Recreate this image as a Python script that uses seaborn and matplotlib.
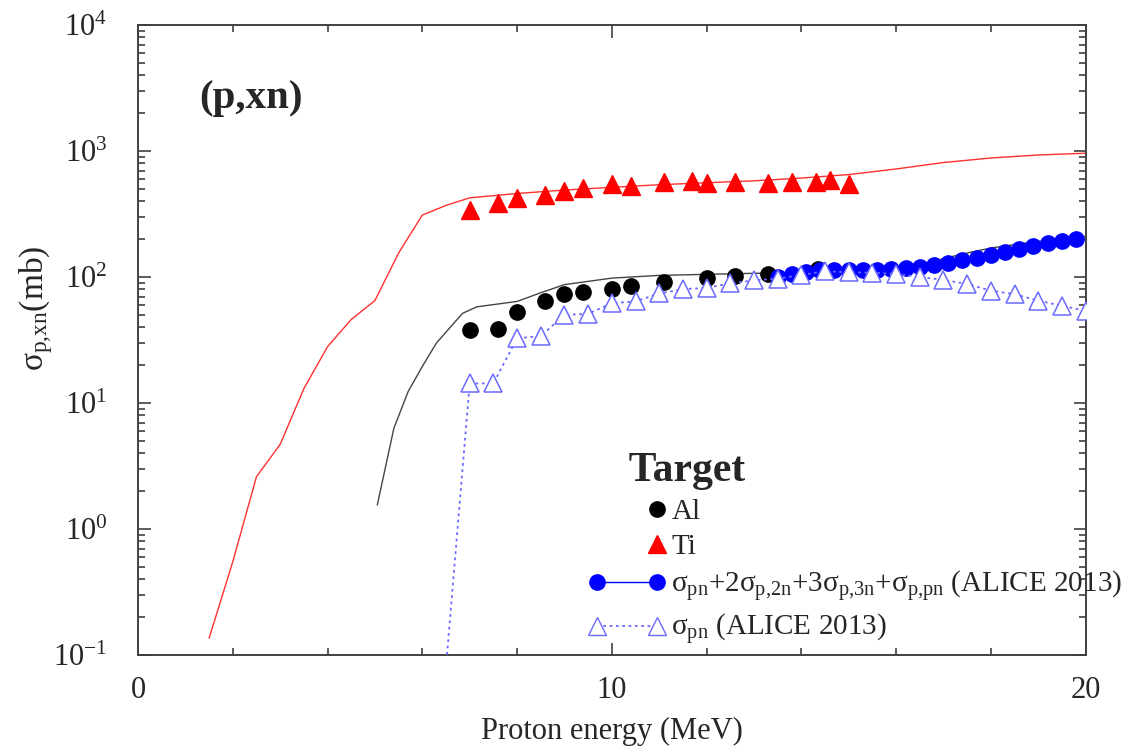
import numpy as np
import matplotlib
matplotlib.use("Agg")
import matplotlib.pyplot as plt
import seaborn as sns
from matplotlib.lines import Line2D
from matplotlib.legend_handler import HandlerLine2D
from matplotlib.ticker import MultipleLocator, LogLocator, NullFormatter

# theory curve, Ti target
ti_calc_e = [1.5, 2.0, 2.5, 3.0, 3.5, 4.0, 4.5, 5.0, 5.5, 6.0, 6.5, 7.0, 8.0, 9.0,
             10.0, 11.0, 12.0, 13.0, 14.0, 15.0, 16.0, 17.0, 18.0, 19.0, 20.0]
ti_calc_xs = [0.136, 0.55, 2.6, 4.7, 13, 28, 46, 65, 155, 310, 370, 425, 460, 490,
              515, 540, 560, 580, 610, 650, 720, 810, 880, 930, 960]

# theory curve, Al target
al_calc_e = [5.05, 5.4, 5.7, 6.0, 6.3, 6.85, 7.15, 8.0, 8.5, 9.0, 10.0, 11.0, 12.0,
             13.0, 14.0, 15.0, 16.0, 16.5, 17.0, 17.5, 18.0, 19.0, 20.0]
al_calc_xs = [1.55, 6.3, 12.3, 19.5, 30, 51.5, 58, 64, 75, 87, 98, 103, 105,
              107, 108, 110, 115, 125, 140, 155, 170, 192, 210]

# measured points
al_e = [7.0, 7.6, 8.0, 8.6, 9.0, 9.4, 10.0, 10.4, 11.1, 12.0, 12.6, 13.3, 14.35]
al_xs = [38, 38.7, 52.5, 65, 73, 76.4, 81, 85, 92, 97.6, 102, 105, 116]

ti_e = [7.0, 7.6, 8.0, 8.6, 9.0, 9.4, 10.0, 10.4, 11.1, 11.7, 12.0, 12.6, 13.3,
        13.8, 14.3, 14.6, 15.0]
ti_xs = [340, 385, 421, 448, 484, 511, 544, 527, 563, 577, 562, 563, 562,
         563, 563, 585, 550]

# ALICE 2013
alice_sum_e = [13.5, 13.8, 14.1, 14.4, 14.7, 15.0, 15.3, 15.6, 15.9, 16.2, 16.5,
               16.8, 17.1, 17.4, 17.7, 18.0, 18.3, 18.6, 18.9, 19.2, 19.5, 19.8]
alice_sum_xs = [100, 105, 110, 113, 114, 114, 114, 114, 115, 118, 121,
                124, 130, 136, 142, 150, 158, 167, 177, 185, 194, 200]

alice_pn_e = [6.5, 7.0, 7.5, 8.0, 8.5, 9.0, 9.5, 10.0, 10.5, 11.0, 11.5, 12.0, 12.5,
              13.0, 13.5, 14.0, 14.5, 15.0, 15.5, 16.0, 16.5, 17.0, 17.5, 18.0,
              18.5, 19.0, 19.5, 20.0]
alice_pn_xs = [0.08, 14.3, 14.3, 32.6, 34, 50, 51, 62, 64, 74, 80, 82, 89,
               94, 97, 104, 111, 109, 108, 106, 100, 95, 88, 78,
               73, 65, 59, 54]

sns.set_style("ticks")
plt.rcParams["font.family"] = ["Liberation Serif", "DejaVu Serif"]
plt.rcParams["mathtext.fontset"] = "custom"
plt.rcParams["mathtext.rm"] = "Liberation Serif"
plt.rcParams["mathtext.it"] = "Liberation Serif:italic"
plt.rcParams["mathtext.bf"] = "Liberation Serif:bold"
plt.rcParams["mathtext.default"] = "rm"

fig = plt.figure(figsize=(11.23, 7.53), dpi=100)
ax = fig.add_axes([0.1229, 0.1301, 0.8438, 0.8367])

ms_c = 11
ms_t = 12.5
blue_light = "#6a6aff"
dots = (0, (1.5, 2.0))

sns.lineplot(x=ti_calc_e, y=ti_calc_xs, ax=ax, color="#ff3030", lw=1.0,
             sort=False, estimator=None, zorder=2)
sns.lineplot(x=al_calc_e, y=al_calc_xs, ax=ax, color="#444444", lw=1.0,
             sort=False, estimator=None, zorder=2)
ax.plot(al_e, al_xs, ls="none", marker="o", ms=ms_c, color="black", zorder=3)
ax.plot(alice_sum_e, alice_sum_xs, ls="-", lw=1.0, marker="o", ms=ms_c,
        color="blue", zorder=4)
ax.plot(alice_pn_e, alice_pn_xs, ls=dots, lw=1.3, marker="^", ms=ms_t,
        color=blue_light, mfc="white", mec=blue_light, mew=1.1, zorder=5)
ax.plot(ti_e, ti_xs, ls="none", marker="^", ms=ms_t, color="red", zorder=6)

ax.set_yscale("log")
ax.set_xlim(0, 20)
ax.set_ylim(0.1, 1e4)
ax.xaxis.set_major_locator(MultipleLocator(10))
ax.xaxis.set_minor_locator(MultipleLocator(2))
ax.yaxis.set_major_locator(LogLocator(base=10, numticks=10))
ax.yaxis.set_minor_locator(LogLocator(base=10, subs=np.arange(2, 10), numticks=20))
ax.yaxis.set_minor_formatter(NullFormatter())

for s in ax.spines.values():
    s.set_color("#404040")
    s.set_linewidth(1.4)
ax.tick_params(which="both", direction="in", top=True, right=True,
               color="#303030", width=1.1, labelsize=22)
ax.tick_params(which="major", length=9)
ax.tick_params(which="minor", length=5)
ax.tick_params(axis="x", which="both", pad=15)
ax.tick_params(axis="y", which="both", pad=22)

ax.set_xlabel("Proton energy (MeV)", fontsize=22, labelpad=9)
ax.set_ylabel(r"$\sigma_{p{,}xn}$(mb)", fontsize=24)
ax.yaxis.set_label_coords(-0.088, 0.55)

ax.text(0.065, 0.884, "(p,xn)", transform=ax.transAxes, fontsize=29.5,
        fontweight="bold", va="center", ha="left")


class RightMarker(HandlerLine2D):
    # marker only at the right end of the handle
    def create_artists(self, *args, **kwargs):
        arts = super().create_artists(*args, **kwargs)
        for a in arts:
            a.set_markevery([1])
        return arts


h_al = Line2D([], [], ls="none", marker="o", ms=ms_c, color="black")
h_ti = Line2D([], [], ls="none", marker="^", ms=ms_t, color="red")
h_sum = Line2D([], [], ls="-", lw=1.0, marker="o", ms=ms_c, color="blue")
h_pn = Line2D([], [], ls=dots, lw=1.3, marker="^", ms=ms_t,
              color=blue_light, mfc="white", mec=blue_light)
labels = ["Al", "Ti",
          r"$\sigma_{pn}$+2$\sigma_{p{,}2n}$+3$\sigma_{p{,}3n}$+$\sigma_{p{,}pn}$ (ALICE 2013)",
          r"$\sigma_{pn}$ (ALICE 2013)"]
leg = ax.legend([h_al, h_ti, h_sum, h_pn], labels, title="    Target",
                title_fontproperties={"weight": "bold", "size": 30},
                fontsize=21, frameon=False, numpoints=2, handlelength=2.65,
                handletextpad=0.2, labelspacing=0.3, borderpad=0,
                borderaxespad=0, alignment="left",
                loc="lower left", bbox_to_anchor=(0.475, 0.012),
                handler_map={h_al: RightMarker(), h_ti: RightMarker()})

fig.savefig("out.png", dpi=100)
